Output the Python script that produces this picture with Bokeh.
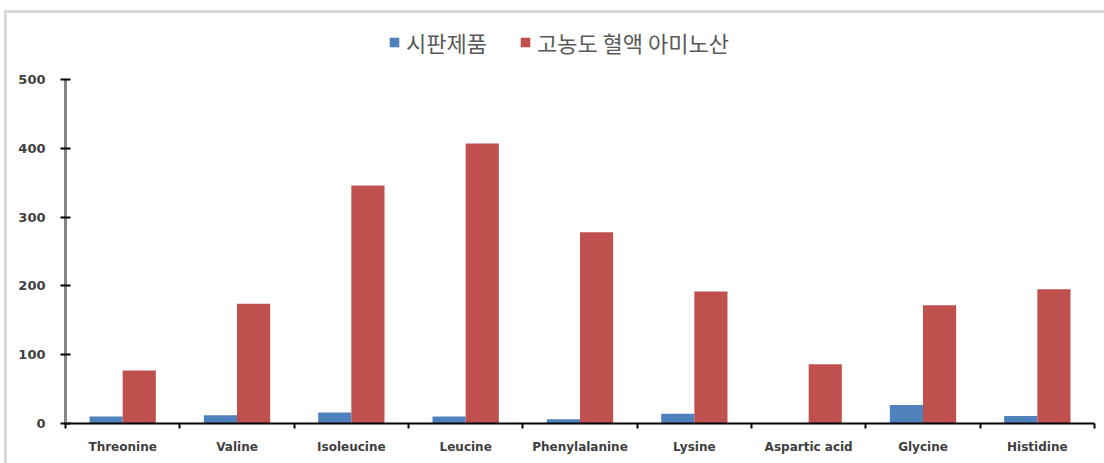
from bokeh.plotting import figure
from bokeh.models import (ColumnDataSource, Range1d, FixedTicker, Legend, LegendItem,
                          InlineStyleSheet)
from bokeh.transform import dodge
from bokeh.embed import file_html
from bokeh.resources import INLINE
import numpy as np

categories = ["Threonine", "Valine", "Isoleucine", "Leucine", "Phenylalanine",
              "Lysine", "Aspartic acid", "Glycine", "Histidine"]
commercial = [10, 12, 16, 10, 6, 14, 0, 27, 11]
high_conc = [77, 174, 346, 407, 278, 192, 86, 172, 195]
series_names = ["시판제품", "고농도 혈액 아미노산"]
y_ticks = [0, 100, 200, 300, 400, 500]

# layout: the axis spans 0..500 over 344 px; the frame extends above it to hold the legend
W, H = 1104, 463
top_border, bottom_border = 13, 40
axis_px = 344
frame_px = H - top_border - bottom_border
y_max = y_ticks[-1] * frame_px / axis_px

idx = np.arange(len(categories)) + 0.5
src = ColumnDataSource(dict(x=idx, a=commercial, b=high_conc))

p = figure(width=W, height=H, output_backend="svg", toolbar_location=None,
           x_range=Range1d(0, len(categories)), y_range=Range1d(0, y_max),
           min_border_left=65, min_border_right=10, min_border_top=top_border,
           min_border_bottom=bottom_border)
p.background_fill_color = "white"
p.border_fill_color = None
p.outline_line_color = None
p.xgrid.visible = False
p.ygrid.visible = False

bw = 0.29
r1 = p.vbar(x=dodge("x", -bw / 2), top="a", width=bw, source=src,
            fill_color="#4F81BD", line_color=None)
r2 = p.vbar(x=dodge("x", bw / 2), top="b", width=bw, source=src,
            fill_color="#C0504D", line_color=None)

# y axis
ya = p.yaxis[0]
ya.ticker = FixedTicker(ticks=y_ticks)
ya.bounds = (y_ticks[0], y_ticks[-1])
ya.axis_line_color = "#868686"
ya.axis_line_width = 3
ya.major_tick_in = 5
ya.major_tick_out = 5
ya.major_tick_line_color = "black"
ya.major_tick_line_width = 2
ya.minor_tick_line_color = None
ya.major_label_text_font = "DejaVu Sans"
ya.major_label_text_font_size = "13px"
ya.major_label_text_font_style = "bold"
ya.major_label_text_color = "#404040"
ya.major_label_standoff = 15

# x axis
xa = p.xaxis[0]
xa.ticker = FixedTicker(ticks=list(idx), minor_ticks=list(range(len(categories) + 1)))
xa.major_label_overrides = {float(v): c for v, c in zip(idx, categories)}
xa.axis_line_color = "black"
xa.axis_line_width = 2
xa.major_tick_in = 0
xa.major_tick_out = 0
xa.minor_tick_in = 0
xa.minor_tick_out = 5
xa.minor_tick_line_color = "black"
xa.minor_tick_line_width = 2
xa.major_label_text_font = "DejaVu Sans"
xa.major_label_text_font_size = "12px"
xa.major_label_text_font_style = "bold"
xa.major_label_text_color = "#404040"
xa.major_label_standoff = 11

legend = Legend(items=[LegendItem(label=series_names[0], renderers=[r1]),
                       LegendItem(label=series_names[1], renderers=[r2])],
                orientation="horizontal", location=(323, 365),
                padding=0, margin=0, spacing=32, label_standoff=6,
                glyph_width=12, glyph_height=12, label_height=22,
                label_text_font="Noto Sans CJK KR", label_text_font_size="22px",
                label_text_color="#595959", border_line_color=None,
                background_fill_alpha=0)
p.add_layout(legend, "center")

p.stylesheets = [InlineStyleSheet(css="""
:host {
  background:
    linear-gradient(#d9d9d9, #d9d9d9) 4px 10px / 100% 3px no-repeat,
    linear-gradient(#d9d9d9, #d9d9d9) 4px 10px / 3px 100% no-repeat,
    white;
}
""")]

open("out.html", "w").write(file_html(p, INLINE))
